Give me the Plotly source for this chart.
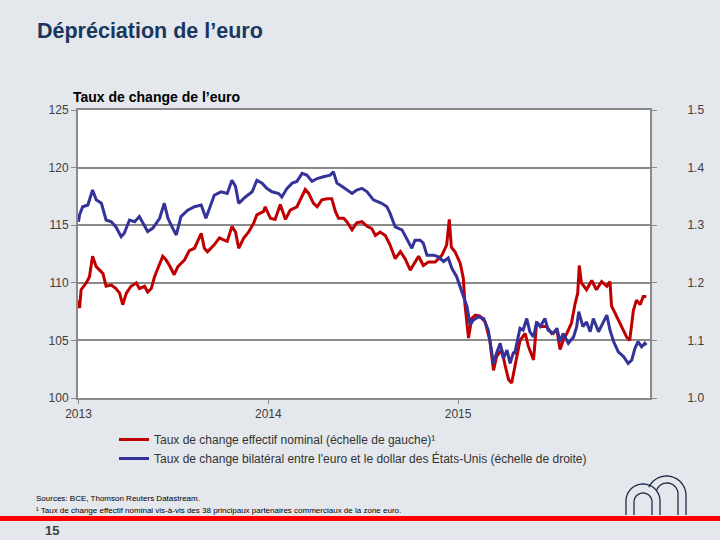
import numpy as np
import plotly.graph_objects as go

# ---------------- data ----------------
neer_dates = [
    "2013-01-01", "2013-01-03", "2013-01-06", "2013-01-16", "2013-01-22", "2013-01-28", "2013-02-04",
    "2013-02-10", "2013-02-17", "2013-02-23", "2013-03-05", "2013-03-14", "2013-03-21", "2013-03-27",
    "2013-04-03", "2013-04-12", "2013-04-22", "2013-04-28", "2013-05-08", "2013-05-14", "2013-05-21",
    "2013-05-27", "2013-06-06", "2013-06-12", "2013-06-18", "2013-06-25", "2013-07-04", "2013-07-11",
    "2013-07-24", "2013-08-02", "2013-08-12", "2013-08-21", "2013-08-25", "2013-08-31", "2013-09-06",
    "2013-09-19", "2013-09-29", "2013-10-08", "2013-10-14", "2013-10-23", "2013-10-30", "2013-11-05",
    "2013-11-15", "2013-11-24", "2013-12-04", "2013-12-10", "2013-12-23", "2013-12-26", "2014-01-05",
    "2014-01-14", "2014-01-24", "2014-02-03", "2014-02-12", "2014-02-25", "2014-03-07", "2014-03-13",
    "2014-03-19", "2014-03-29", "2014-04-05", "2014-04-14", "2014-04-24", "2014-05-03", "2014-05-10",
    "2014-05-16", "2014-05-26", "2014-06-01", "2014-06-11", "2014-06-20", "2014-06-30", "2014-07-10",
    "2014-07-19", "2014-07-26", "2014-08-04", "2014-08-14", "2014-08-23", "2014-09-02", "2014-09-12",
    "2014-09-21", "2014-10-01", "2014-10-10", "2014-10-17", "2014-10-26", "2014-11-05", "2014-11-18",
    "2014-12-01", "2014-12-10", "2014-12-15", "2014-12-19", "2014-12-26", "2015-01-05", "2015-01-11",
    "2015-01-14", "2015-01-21", "2015-01-27", "2015-02-03", "2015-02-12", "2015-02-22", "2015-03-03",
    "2015-03-10", "2015-03-16", "2015-03-26", "2015-04-01", "2015-04-08", "2015-04-14", "2015-04-20",
    "2015-04-30", "2015-05-10", "2015-05-16", "2015-05-26", "2015-06-01", "2015-06-11", "2015-06-20",
    "2015-06-30", "2015-07-10", "2015-07-16", "2015-07-22", "2015-07-29", "2015-08-07", "2015-08-14",
    "2015-08-19", "2015-08-22", "2015-08-26", "2015-09-05", "2015-09-15", "2015-09-24", "2015-10-04",
    "2015-10-14", "2015-10-20", "2015-10-23", "2015-11-02", "2015-11-11", "2015-11-21", "2015-11-27",
    "2015-12-04", "2015-12-10", "2015-12-17", "2015-12-23", "2015-12-29",
]
neer_values = [
    108.5, 107.8, 109.4, 110.0, 110.5, 112.3, 111.4,
    111.1, 110.8, 109.7, 109.8, 109.5, 109.1, 108.1,
    109.1, 109.7, 110.0, 109.5, 109.7, 109.2, 109.5,
    110.5, 111.7, 112.3, 112.0, 111.5, 110.7, 111.4,
    112.0, 112.8, 113.0, 114.0, 114.3, 113.0, 112.7,
    113.3, 113.9, 113.7, 113.6, 114.9, 114.4, 113.0,
    113.9, 114.4, 115.2, 115.9, 116.2, 116.6, 115.6,
    115.5, 116.8, 115.5, 116.3, 116.6, 117.5, 118.1,
    117.8, 116.9, 116.6, 117.2, 117.3, 117.3, 116.2,
    115.6, 115.6, 115.3, 114.6, 115.2, 115.3, 114.9,
    114.7, 114.1, 114.4, 114.1, 113.3, 112.1, 112.7,
    112.1, 111.1, 111.8, 112.3, 111.5, 111.8, 111.8,
    112.4, 113.3, 115.5, 113.1, 112.7, 111.7, 110.4,
    108.2, 105.2, 106.9, 107.2, 107.1, 106.6, 105.0,
    102.4, 103.6, 104.2, 102.9, 101.6, 101.3, 102.7,
    105.0, 105.6, 104.5, 103.3, 106.5, 106.2, 106.2,
    105.6, 105.9, 104.2, 105.0, 105.6, 106.5, 108.2,
    109.1, 111.5, 110.0, 109.4, 110.2, 109.4, 110.1,
    109.7, 110.1, 108.0, 107.1, 106.3, 105.3, 105.0,
    107.6, 108.5, 108.1, 108.8, 108.8,
]

usd_dates = [
    "2013-01-01", "2013-01-03", "2013-01-09", "2013-01-19", "2013-01-28", "2013-02-04", "2013-02-14",
    "2013-02-23", "2013-03-05", "2013-03-14", "2013-03-24", "2013-03-30", "2013-04-09", "2013-04-19",
    "2013-04-28", "2013-05-05", "2013-05-14", "2013-05-24", "2013-06-06", "2013-06-15", "2013-06-22",
    "2013-07-01", "2013-07-08", "2013-07-17", "2013-07-30", "2013-08-12", "2013-08-25", "2013-09-03",
    "2013-09-13", "2013-09-19", "2013-10-02", "2013-10-14", "2013-10-23", "2013-10-30", "2013-11-05",
    "2013-11-18", "2013-12-01", "2013-12-10", "2013-12-20", "2013-12-29", "2014-01-08", "2014-01-21",
    "2014-01-27", "2014-02-06", "2014-02-16", "2014-02-25", "2014-03-07", "2014-03-16", "2014-03-26",
    "2014-04-05", "2014-04-17", "2014-04-30", "2014-05-06", "2014-05-13", "2014-05-23", "2014-06-01",
    "2014-06-11", "2014-06-20", "2014-06-30", "2014-07-10", "2014-07-22", "2014-08-07", "2014-08-17",
    "2014-08-23", "2014-09-02", "2014-09-15", "2014-09-24", "2014-10-04", "2014-10-10", "2014-10-20",
    "2014-10-26", "2014-11-02", "2014-11-15", "2014-11-24", "2014-12-04", "2014-12-13", "2014-12-20",
    "2014-12-29", "2015-01-08", "2015-01-18", "2015-01-24", "2015-01-30", "2015-02-09", "2015-02-19",
    "2015-02-28", "2015-03-10", "2015-03-16", "2015-03-23", "2015-03-29", "2015-04-05", "2015-04-11",
    "2015-04-17", "2015-04-20", "2015-04-30", "2015-05-06", "2015-05-13", "2015-05-19", "2015-05-26",
    "2015-06-01", "2015-06-08", "2015-06-17", "2015-06-23", "2015-07-03", "2015-07-10", "2015-07-16",
    "2015-07-22", "2015-08-01", "2015-08-11", "2015-08-17", "2015-08-21", "2015-08-29", "2015-09-05",
    "2015-09-12", "2015-09-18", "2015-09-28", "2015-10-07", "2015-10-14", "2015-10-20", "2015-10-27",
    "2015-11-05", "2015-11-15", "2015-11-24", "2015-12-01", "2015-12-07", "2015-12-13", "2015-12-20",
    "2015-12-26", "2015-12-29",
]
usd_values = [
    1.306, 1.318, 1.332, 1.335, 1.361, 1.344, 1.338,
    1.309, 1.306, 1.297, 1.280, 1.286, 1.309, 1.306,
    1.315, 1.303, 1.289, 1.295, 1.312, 1.338, 1.312,
    1.295, 1.283, 1.315, 1.326, 1.332, 1.335, 1.312,
    1.338, 1.352, 1.358, 1.355, 1.378, 1.367, 1.338,
    1.349, 1.358, 1.378, 1.373, 1.364, 1.358, 1.355,
    1.349, 1.364, 1.373, 1.376, 1.390, 1.387, 1.376,
    1.381, 1.384, 1.387, 1.393, 1.373, 1.367, 1.361,
    1.355, 1.361, 1.364, 1.358, 1.344, 1.338, 1.332,
    1.321, 1.297, 1.292, 1.277, 1.260, 1.274, 1.274,
    1.269, 1.248, 1.248, 1.245, 1.237, 1.243, 1.225,
    1.211, 1.185, 1.159, 1.127, 1.135, 1.141, 1.138,
    1.118, 1.060, 1.078, 1.095, 1.069, 1.083, 1.060,
    1.078, 1.078, 1.121, 1.118, 1.138, 1.115, 1.106,
    1.132, 1.124, 1.138, 1.118, 1.112, 1.121, 1.098,
    1.112, 1.095, 1.106, 1.124, 1.150, 1.124, 1.132,
    1.115, 1.138, 1.115, 1.132, 1.144, 1.118, 1.098,
    1.080, 1.072, 1.060, 1.066, 1.086, 1.098, 1.089,
    1.095, 1.092,
]

year_ticks = ["2013-01-01", "2014-01-01", "2015-01-01"]
year_labels = ["2013", "2014", "2015"]
left_ticks = [100, 105, 110, 115, 120, 125]
right_ticks = [1.0, 1.1, 1.2, 1.3, 1.4, 1.5]

name_neer = "Taux de change effectif nominal (échelle de gauche)¹"
name_usd = "Taux de change bilatéral entre l'euro et le dollar des États-Unis (échelle de droite)"

# ---------------- layout helpers ----------------
W, H = 720, 540
L, R, T, B = 78, 650, 110, 398
FONT = "Liberation Sans, Arial, sans-serif"
GRID = "#8a8a8a"
TXT = "#404040"


def paper(px, py):
    return (px - L) / (R - L), (B - py) / (B - T)


fig = go.Figure()
fig.add_trace(go.Scatter(x=neer_dates, y=neer_values, name=name_neer, mode="lines",
                         line=dict(color="#c00000", width=3), yaxis="y"))
fig.add_trace(go.Scatter(x=usd_dates, y=usd_values, name=name_usd, mode="lines",
                         line=dict(color="#333399", width=3), yaxis="y2"))

annotations = []


def text(s, px, py, size, color, bold=False, anchor="left", family=FONT):
    x, y = paper(px, py)
    annotations.append(dict(
        text=f"<b>{s}</b>" if bold else s, x=x, y=y, xref="paper", yref="paper",
        xanchor=anchor, yanchor="middle", showarrow=False,
        font=dict(size=size, color=color, family=family)))


text("Dépréciation de l’euro", 35, 31, 21.5, "#17375e", bold=True)
text("Taux de change de l’euro", 71, 97, 14, "#000000", bold=True)
text("Sources: BCE, Thomson Reuters Datastream.", 34, 498, 8, "#000000")
text("¹ Taux de change effectif nominal vis-à-vis des 38 principaux partenaires commerciaux de la zone euro.",
     34, 510, 8, "#000000")
text("15", 43, 530, 13, "#404040", bold=True)

shapes = []
x0, y0 = paper(0, 516)
x1, y1 = paper(W, 521)
shapes.append(dict(type="rect", xref="paper", yref="paper", x0=x0, y0=y0, x1=x1, y1=y1,
                   fillcolor="#ff0000", line=dict(width=0), layer="above"))


def arch(left, right, base, top, start_deg=180):
    r = (right - left) / 2
    cx = (left + right) / 2
    cy = top + r
    pts = []
    if start_deg >= 180:
        pts.append((left, base))
    ang = np.linspace(np.radians(start_deg), 0, 40)
    for a in ang:
        pts.append((cx + r * np.cos(a), cy - r * np.sin(a)))
    pts.append((right, base))
    p = [paper(a, b) for a, b in pts]
    return "M " + " L ".join(f"{a:.5f},{b:.5f}" for a, b in p)


for args in [(626, 660, 515, 484), (634, 652, 515, 493), (647, 686, 515, 476, 155), (656, 678, 515, 483, 160)]:
    shapes.append(dict(type="path", xref="paper", yref="paper", path=arch(*args),
                       line=dict(color="#1c2b4a", width=1.3)))

lx, ly = paper(114, 425)

fig.update_layout(
    width=W, height=H,
    margin=dict(l=L, r=W - R, t=T, b=H - B),
    paper_bgcolor="#e4e7eb", plot_bgcolor="#ffffff",
    font=dict(family=FONT, size=12, color=TXT),
    showlegend=True,
    legend=dict(x=lx, y=ly, xanchor="left", yanchor="top", bgcolor="rgba(0,0,0,0)",
                font=dict(size=12, color="#333333"), itemwidth=30, tracegroupgap=0),
    xaxis=dict(type="date", range=["2012-12-31", "2016-01-05"], tickvals=year_ticks, ticktext=year_labels,
               showgrid=False, showline=True, linecolor=GRID, linewidth=2, mirror=True,
               ticks="outside", ticklen=4, tickcolor=GRID, tickfont=dict(size=12, color=TXT)),
    yaxis=dict(range=[100, 125], tickvals=left_ticks, showgrid=True, gridcolor=GRID, gridwidth=2,
               showline=True, linecolor=GRID, linewidth=2, ticks="outside", ticklen=5, tickcolor=GRID,
               zeroline=False, tickfont=dict(size=12, color=TXT)),
    yaxis2=dict(range=[1.0, 1.5], tickvals=right_ticks, tickformat=".1f", overlaying="y", side="right",
                showgrid=False, showline=True, linecolor=GRID, linewidth=2, ticks="outside", ticklen=5,
                tickcolor=GRID, zeroline=False, ticklabelstandoff=28, tickfont=dict(size=12, color=TXT)),
    annotations=annotations,
    shapes=shapes,
)

fig.write_html("out.html", config={"displayModeBar": False},
               post_script="document.body.style.margin='0';")
